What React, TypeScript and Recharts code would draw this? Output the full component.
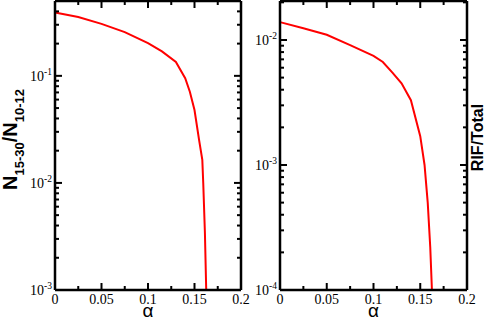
import React from "react";
import { LineChart, Line, XAxis, YAxis } from "recharts";

// alpha axis ticks (majors every 0.05, minors in between)
const alphaTicks = [0, 0.025, 0.05, 0.075, 0.1, 0.125, 0.15, 0.175, 0.2];

// left panel: N15-30 / N10-12
const ratioAlpha = [0, 0.025, 0.05, 0.075, 0.1, 0.115, 0.13, 0.14, 0.145, 0.15, 0.155, 0.1584, 0.1594, 0.1612, 0.1626];
const ratioValues = [0.391, 0.354, 0.306, 0.256, 0.202, 0.169, 0.135, 0.095, 0.071, 0.048, 0.025, 0.0164, 0.01, 0.0034, 0.001];
const ratioTicks = [
	0.001, 0.002, 0.003, 0.004, 0.005, 0.006, 0.007, 0.008, 0.009,
	0.01, 0.02, 0.03, 0.04, 0.05, 0.06, 0.07, 0.08, 0.09,
	0.1, 0.2, 0.3, 0.4,
];

// right panel: RIF / Total
const rifAlpha = [0, 0.025, 0.05, 0.075, 0.1, 0.11, 0.12, 0.13, 0.14, 0.15, 0.1546, 0.158, 0.1607, 0.1625];
const rifValues = [0.0139, 0.0124, 0.011, 0.0091, 0.00745, 0.00667, 0.0055, 0.0045, 0.0033, 0.0017, 0.001, 0.0005, 0.00022, 0.0001];
const rifTicks = [
	0.0001, 0.0002, 0.0003, 0.0004, 0.0005, 0.0006, 0.0007, 0.0008, 0.0009,
	0.001, 0.002, 0.003, 0.004, 0.005, 0.006, 0.007, 0.008, 0.009,
	0.01, 0.02,
];

const ratioData = ratioAlpha.map((a, i) => ({ alpha: a, value: ratioValues[i] }));
const rifData = rifAlpha.map((a, i) => ({ alpha: a, value: rifValues[i] }));

const MAJOR = 7;
const MINOR = 4;
const PLOT_TOP = 1;
const TICK_W = 2;
const FRAME_W = 2.5;

const isDecade = (v: number) => Math.abs(Math.log10(v) - Math.round(Math.log10(v))) < 1e-6;
const isMajorAlpha = (v: number) => Math.abs(v / 0.05 - Math.round(v / 0.05)) < 1e-6;

// bottom ticks + mirrored top ticks; first tick also draws the top frame
const BottomTick = (props: any) => {
	const { x, y, payload, index, plotWidth } = props;
	const major = isMajorAlpha(payload.value);
	const len = major ? MAJOR : MINOR;
	return (
		<g>
			{index === 0 && <path d={`M${x},${PLOT_TOP}H${x + plotWidth}`} stroke="#000" strokeWidth={FRAME_W} fill="none" />}
			<path d={`M${x},${y}V${y - len}`} stroke="#000" strokeWidth={TICK_W} fill="none" />
			<path d={`M${x},${PLOT_TOP}V${PLOT_TOP + len}`} stroke="#000" strokeWidth={TICK_W} fill="none" />
			{major && (
				<text x={x} y={y + 13.5} textAnchor="middle" fontFamily="Liberation Serif" fontSize={14} fill="#000">
					{String(+Number(payload.value).toFixed(3))}
				</text>
			)}
		</g>
	);
};

// left ticks + mirrored right ticks; first tick also draws the right frame
const LeftTick = (props: any) => {
	const { x, y, payload, index, plotWidth } = props;
	const major = isDecade(payload.value);
	const len = major ? MAJOR : MINOR;
	const exp = Math.round(Math.log10(payload.value));
	const xr = x + plotWidth;
	return (
		<g>
			{index === 0 && <path d={`M${xr},${y}V${PLOT_TOP}`} stroke="#000" strokeWidth={FRAME_W} fill="none" />}
			<path d={`M${x},${y}H${x + len}`} stroke="#000" strokeWidth={TICK_W} fill="none" />
			<path d={`M${xr},${y}H${xr - len}`} stroke="#000" strokeWidth={TICK_W} fill="none" />
			{major && (
				<text x={x - 3} y={y + 5} textAnchor="end" fontFamily="Liberation Serif" fontSize={14} fill="#000">
					10
					<tspan dy={-6} fontSize={9.5}>{exp}</tspan>
				</text>
			)}
		</g>
	);
};

const AlphaLabel = (props: any) => {
	const { x, y, width } = props.viewBox;
	return (
		<text x={x + width / 2} y={y + 26.5} textAnchor="middle" fontFamily="Liberation Sans" fontSize={19} fill="#000">
			α
		</text>
	);
};

const RatioLabel = (props: any) => {
	const { x, y, height } = props.viewBox;
	const cx = x + 17;
	const cy = y + height / 2 - 6;
	return (
		<text
			x={cx}
			y={cy}
			transform={`rotate(-90, ${cx}, ${cy})`}
			textAnchor="middle"
			fontFamily="Liberation Sans"
			fontWeight="bold"
			fontSize={20}
			fill="#000">
			N<tspan fontSize={13} dy={7}>15-30</tspan>
			<tspan dy={-7}>/N</tspan>
			<tspan fontSize={13} dy={7}>10-12</tspan>
		</text>
	);
};

const RifLabel = (props: any) => {
	const { x, y, width, height } = props.viewBox;
	const cx = x + width + props.plotWidth + 16;
	const cy = y + height / 2 - 8;
	return (
		<text
			x={cx}
			y={cy}
			transform={`rotate(-90, ${cx}, ${cy})`}
			textAnchor="middle"
			fontFamily="Liberation Sans"
			fontWeight="bold"
			fontSize={16}
			fill="#000">
			RIF/Total
		</text>
	);
};

type PanelProps = {
	data: { alpha: number; value: number }[];
	yDomain: [number, number];
	yTicks: number[];
	width: number;
	leftWidth: number;
	rightMargin: number;
	label: React.ReactElement;
};

const Panel = ({ data, yDomain, yTicks, width, leftWidth, rightMargin, label }: PanelProps) => {
	const plotWidth = width - leftWidth - rightMargin;
	return (
		<LineChart width={width} height={320} data={data} margin={{ top: PLOT_TOP, right: rightMargin, bottom: 0, left: 0 }}>
			<XAxis
				dataKey="alpha"
				type="number"
				domain={[0, 0.2]}
				ticks={alphaTicks}
				interval={0}
				tickSize={0}
				tickMargin={0}
				height={30}
				axisLine={{ stroke: "#000", strokeWidth: FRAME_W }}
				tickLine={false}
				tick={<BottomTick plotWidth={plotWidth} />}
				label={<AlphaLabel />}
			/>
			<YAxis
				type="number"
				scale="log"
				domain={yDomain}
				allowDataOverflow
				ticks={yTicks}
				interval={0}
				tickSize={0}
				tickMargin={0}
				width={leftWidth}
				axisLine={{ stroke: "#000", strokeWidth: FRAME_W }}
				tickLine={false}
				tick={<LeftTick plotWidth={plotWidth} />}
				label={React.cloneElement(label, { plotWidth } as any)}
			/>
			<Line type="linear" dataKey="value" stroke="#ff0000" strokeWidth={2} dot={false} isAnimationActive={false} />
		</LineChart>
	);
};

const App: React.FC = () => {
	return (
		<div style={{ position: "absolute", left: 0, top: 0, width: 485, height: 320, background: "#fff" }}>
			<div style={{ position: "absolute", left: 0, top: 0 }}>
				<Panel data={ratioData} yDomain={[0.001, 0.5]} yTicks={ratioTicks} width={260} leftWidth={55} rightMargin={19} label={<RatioLabel />} />
			</div>
			<div style={{ position: "absolute", left: 240, top: 0 }}>
				<Panel data={rifData} yDomain={[0.0001, 0.0205]} yTicks={rifTicks} width={245} leftWidth={40} rightMargin={18} label={<RifLabel />} />
			</div>
		</div>
	);
};

export default App;
